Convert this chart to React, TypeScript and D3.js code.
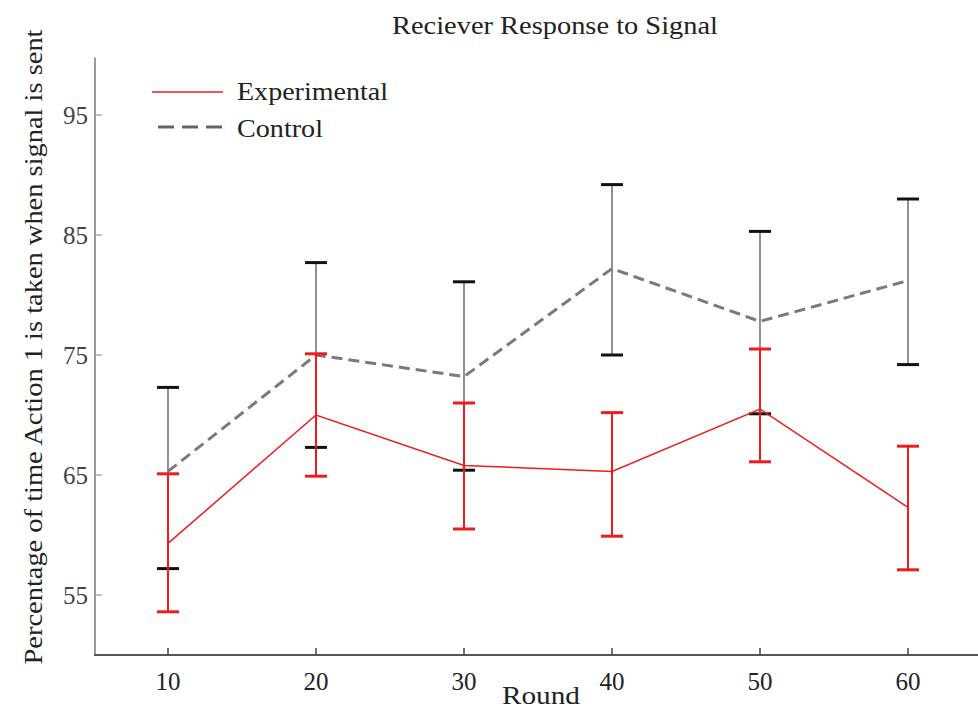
import React from "react";
import * as d3 from "d3";

const rounds = [10, 20, 30, 40, 50, 60];
const experimental = [59.3, 70.0, 65.8, 65.3, 70.5, 62.3];
const expUpper = [65.1, 75.1, 71.0, 70.2, 75.5, 67.4];
const expLower = [53.6, 64.9, 60.5, 59.9, 66.1, 57.1];
const control = [65.3, 75.0, 73.2, 82.2, 77.8, 81.2];
const ctlUpper = [72.3, 82.7, 81.1, 89.2, 85.3, 88.0];
const ctlLower = [57.2, 67.3, 65.4, 75.0, 70.1, 74.2];
const xTicks = [10, 20, 30, 40, 50, 60];
const yTicks = [55, 65, 75, 85, 95];

const W = 978;
const H = 710;
const x = d3.scaleLinear().domain([5, 65]).range([94, 982]);
const y = d3.scaleLinear().domain([50, 100]).range([655, 55]);

const serif = { fontFamily: '"Liberation Serif", serif' };

export default function App() {
  const line = d3
    .line<number>()
    .x((_, i) => x(rounds[i]))
    .y((d) => y(d));
  const capW = 11;
  return (
    <svg
      width={W}
      height={H}
      style={{ position: "absolute", left: 0, top: 0, background: "#fff", ...serif }}
    >
      {/* axes */}
      <line x1={x(5) + 1} x2={x(5) + 1} y1={y(99.8)} y2={y(50)} stroke="#777" strokeWidth={1.5} />
      <line x1={x(5)} x2={W} y1={y(50)} y2={y(50)} stroke="#555" strokeWidth={2.2} />
      {xTicks.map((t) => (
        <g key={"xt" + t}>
          <line x1={x(t)} x2={x(t)} y1={y(50)} y2={y(50) - 7} stroke="#444" strokeWidth={1.5} />
          <text x={x(t)} y={690} textAnchor="middle" fontSize={25} fill="#222" style={serif}>
            {t}
          </text>
        </g>
      ))}
      {yTicks.map((t) => (
        <g key={"yt" + t}>
          <line x1={x(5) + 1} x2={x(5) + 8} y1={y(t)} y2={y(t)} stroke="#999" strokeWidth={1.2} />
          <text x={x(5) - 6} y={y(t) + 9} textAnchor="end" fontSize={25} fill="#444" style={serif}>
            {t}
          </text>
        </g>
      ))}
      <text x={541} y={704} textAnchor="middle" fontSize={25} fill="#222" style={serif} textLength={78} lengthAdjust="spacingAndGlyphs">
        Round
      </text>
      <text
        transform={`translate(42, 347) rotate(-90)`}
        textAnchor="middle"
        fontSize={25}
        fill="#222"
        style={serif}
        textLength={635}
        lengthAdjust="spacingAndGlyphs"
      >
        Percentage of time Action 1 is taken when signal is sent
      </text>
      <text x={555} y={34} textAnchor="middle" fontSize={26} fill="#222" style={serif} textLength={326} lengthAdjust="spacingAndGlyphs">
        Reciever Response to Signal
      </text>

      {/* control error bars */}
      {rounds.map((r, i) => (
        <g key={"ce" + r}>
          <line x1={x(r)} x2={x(r)} y1={y(ctlUpper[i])} y2={y(ctlLower[i])} stroke="#555" strokeWidth={1.3} />
          <line x1={x(r) - capW} x2={x(r) + capW} y1={y(ctlUpper[i])} y2={y(ctlUpper[i])} stroke="#111" strokeWidth={3} />
          <line x1={x(r) - capW} x2={x(r) + capW} y1={y(ctlLower[i])} y2={y(ctlLower[i])} stroke="#111" strokeWidth={3} />
        </g>
      ))}
      <path d={line(control) || ""} fill="none" stroke="#7a7a7a" strokeWidth={3} strokeDasharray="11 6" />

      {/* experimental error bars */}
      {rounds.map((r, i) => (
        <g key={"ee" + r}>
          <line x1={x(r)} x2={x(r)} y1={y(expUpper[i])} y2={y(expLower[i])} stroke="#ee1c1c" strokeWidth={2} />
          <line x1={x(r) - capW} x2={x(r) + capW} y1={y(expUpper[i])} y2={y(expUpper[i])} stroke="#ee1c1c" strokeWidth={3} />
          <line x1={x(r) - capW} x2={x(r) + capW} y1={y(expLower[i])} y2={y(expLower[i])} stroke="#ee1c1c" strokeWidth={3} />
        </g>
      ))}
      <path d={line(experimental) || ""} fill="none" stroke="#ee1c1c" strokeWidth={1.5} />

      {/* legend */}
      <line x1={152} x2={223} y1={92} y2={92} stroke="#ee1c1c" strokeWidth={1.5} />
      <text x={237} y={100} fontSize={26} fill="#222" style={serif} textLength={151} lengthAdjust="spacingAndGlyphs">
        Experimental
      </text>
      <line x1={158} x2={222} y1={127} y2={127} stroke="#666" strokeWidth={3} strokeDasharray="16 8" />
      <text x={237} y={137} fontSize={26} fill="#222" style={serif} textLength={86} lengthAdjust="spacingAndGlyphs">
        Control
      </text>
    </svg>
  );
}
